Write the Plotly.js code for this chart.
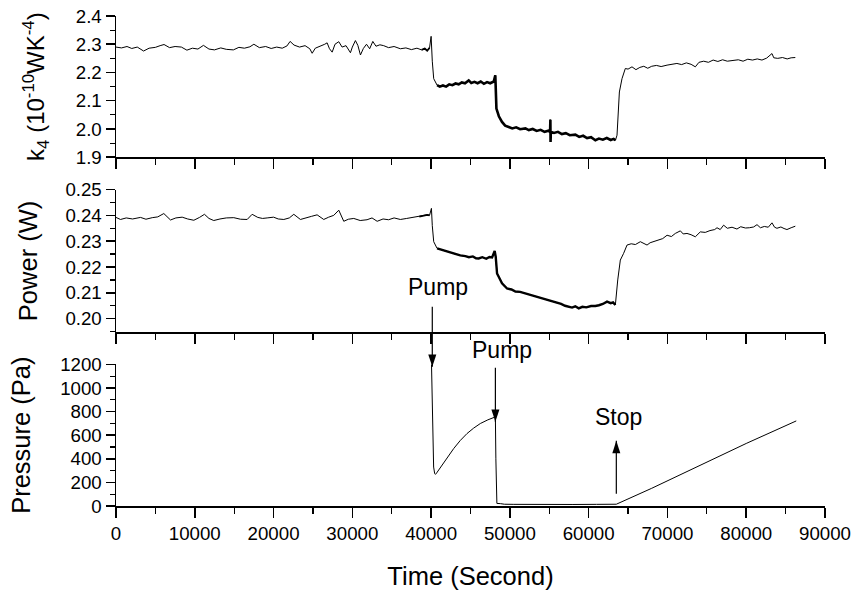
<!DOCTYPE html>
<html><head><meta charset="utf-8">
<script src="https://cdn.plot.ly/plotly-3.0.1.min.js"></script>
<style>html,body{margin:0;padding:0;background:#fff}#chart{width:852px;height:590px}</style>
</head><body><div id="chart"></div>
<script>
// ---------- data ----------
const k4Time = [0,700,1400,2000,2700,3500,4200,5000,5600,6100,6800,7500,8300,9000,9700,10400,11100,11800,12500,13300,14000,14900,15600,16300,17000,17500,18200,19000,19700,20400,21100,21700,22100,22600,23300,24000,24600,24900,25300,26000,26500,26800,27100,27440,27800,28280,28700,29200,29760,30000,30390,30700,31030,31400,31800,32200,32600,33000,33500,33980,34600,35300,36100,36800,37500,38200,38800,39200,39500,39800,40000,40150,40330,40760,41100,41500,41900,42300,42700,43100,43500,43900,44300,44770,45100,45500,45900,46300,46700,47100,47500,47950,48150,48290,48600,49000,49400,49850,50300,50800,51300,51970,52400,52900,53400,53900,54400,54900,55100,55140,55160,55200,55600,56100,56600,57100,57600,58310,58800,59300,59800,60300,60850,61300,61800,62300,62800,63170,63400,63600,63900,64230,64650,65000,65500,66000,66500,67000,67500,68000,68600,69200,69950,70600,71200,71800,72400,73000,73540,74000,74600,75200,75800,76400,77000,77600,78400,79000,79600,80200,80800,81400,82000,82600,83270,83500,84000,84600,85200,85700,86230];
const k4Value = [2.290,2.287,2.292,2.285,2.290,2.276,2.286,2.289,2.295,2.299,2.288,2.292,2.290,2.279,2.286,2.283,2.296,2.283,2.280,2.287,2.282,2.280,2.289,2.286,2.291,2.300,2.288,2.292,2.285,2.290,2.286,2.294,2.310,2.297,2.290,2.295,2.284,2.268,2.286,2.293,2.300,2.305,2.284,2.272,2.300,2.309,2.290,2.295,2.270,2.290,2.313,2.296,2.262,2.285,2.300,2.284,2.310,2.293,2.298,2.295,2.288,2.292,2.284,2.287,2.281,2.286,2.280,2.285,2.277,2.287,2.328,2.240,2.178,2.155,2.150,2.154,2.150,2.158,2.155,2.161,2.158,2.165,2.162,2.172,2.163,2.167,2.162,2.168,2.160,2.166,2.162,2.168,2.190,2.072,2.045,2.025,2.012,2.007,2.002,2.006,1.999,2.002,1.996,2.000,1.993,1.997,1.990,1.994,1.989,2.033,1.954,1.990,1.986,1.990,1.982,1.985,1.978,1.980,1.972,1.976,1.968,1.971,1.960,1.966,1.962,1.968,1.961,1.965,1.960,1.978,2.131,2.178,2.214,2.212,2.220,2.210,2.218,2.222,2.215,2.222,2.225,2.221,2.226,2.228,2.232,2.228,2.234,2.229,2.220,2.236,2.240,2.236,2.244,2.239,2.245,2.240,2.243,2.245,2.240,2.247,2.244,2.248,2.244,2.251,2.267,2.252,2.250,2.253,2.248,2.252,2.253];

const powerTime = [0,570,1300,2100,3110,3800,4600,5300,6070,6920,7600,8400,9100,9880,10600,11230,11800,12410,13200,14000,14950,15800,16650,17280,18000,18600,19190,20000,20600,21300,22000,22570,23410,24200,24800,25530,26370,27000,27640,28280,28910,29500,30180,31000,31870,32500,33150,33900,34600,35300,36100,36900,37790,38500,39060,39500,39800,40040,40150,40330,40760,41200,41700,42230,42700,43200,43700,44350,44800,45300,45700,46040,46500,47000,47400,47740,48070,48200,48370,49000,49640,50200,50700,51300,51970,52500,53000,53500,54000,54500,54930,55500,56000,56500,57000,57500,57890,58300,58740,59200,59700,60300,60850,61300,61800,62330,62800,63100,63390,63690,64020,64440,64870,65400,65930,66560,67000,67410,67800,68250,68800,69400,69950,70500,71000,71640,72000,72480,73000,73540,74170,74800,75400,76000,76290,76700,77130,77600,78200,78820,79300,79900,80400,80940,81370,81800,82300,82800,83270,83600,83900,84400,84800,85170,85700,86230];
const powerValue = [0.2392,0.2384,0.2390,0.2386,0.2392,0.2385,0.2391,0.2394,0.2407,0.2382,0.2390,0.2393,0.2386,0.2381,0.2392,0.2404,0.2388,0.2380,0.2386,0.2390,0.2391,0.2385,0.2384,0.2404,0.2392,0.2388,0.2390,0.2393,0.2386,0.2384,0.2390,0.2404,0.2384,0.2392,0.2396,0.2402,0.2384,0.2393,0.2400,0.2420,0.2377,0.2385,0.2388,0.2380,0.2383,0.2390,0.2377,0.2386,0.2383,0.2390,0.2384,0.2388,0.2392,0.2395,0.2398,0.2402,0.2400,0.2427,0.2360,0.2298,0.2272,0.2268,0.2262,0.2259,0.2252,0.2250,0.2245,0.2242,0.2238,0.2241,0.2234,0.2233,0.2238,0.2232,0.2239,0.2237,0.2262,0.2240,0.2175,0.2137,0.2117,0.2113,0.2105,0.2104,0.2098,0.2092,0.2088,0.2083,0.2080,0.2074,0.2070,0.2066,0.2060,0.2057,0.2050,0.2047,0.2043,0.2048,0.2040,0.2046,0.2044,0.2049,0.2049,0.2052,0.2057,0.2066,0.2060,0.2063,0.2053,0.2150,0.2227,0.2253,0.2285,0.2290,0.2287,0.2298,0.2290,0.2285,0.2294,0.2298,0.2304,0.2310,0.2323,0.2318,0.2330,0.2340,0.2328,0.2330,0.2325,0.2317,0.2336,0.2334,0.2341,0.2345,0.2352,0.2345,0.2362,0.2350,0.2354,0.2347,0.2356,0.2351,0.2352,0.2355,0.2364,0.2352,0.2357,0.2354,0.2371,0.2354,0.2350,0.2355,0.2349,0.2345,0.2352,0.2358];

const pressureTime = [40050,40100,40150,40220,40320,40450,40550,40700,41000,41600,42200,42870,43700,44560,45400,46250,47200,48070,48160,48220,48280,48350,48800,49300,50500,52000,55000,58000,61000,63510,68000,74170,80000,86350];
const pressureValue = [1200,1000,750,500,330,275,268,280,310,360,425,487,555,614,660,699,730,755,755,400,60,22,20,15,14,13,13,13,14,15,150,348,530,721];

const timeTicks = [0,10000,20000,30000,40000,50000,60000,70000,80000,90000];
const eventLabels = ['Pump','Pump','Stop'];
const eventTimes = [40150,48160,63510];      // arrow positions (s)
const eventPressure = [1179,713,552];        // arrow tips (Pa)
const eventDirection = ['down','down','up'];

// noisy stretch drawn heavier, taken from the same arrays
function pick(t, v, lo, hi){
  const x=[], y=[];
  for(let i=0;i<t.length;i++){ if(t[i]>=lo && t[i]<=hi){ x.push(t[i]); y.push(v[i]); } }
  return {x, y};
}
const k4Noisy = pick(k4Time, k4Value, 40760, 63400);
const k4Pre = pick(k4Time, k4Value, 38800, 39800);
const pwNoisy = pick(powerTime, powerValue, 40760, 63390);
const pwPre = pick(powerTime, powerValue, 38500, 39800);

const FONT = 'Arial, "Liberation Sans", Helvetica, sans-serif';
const line = (w)=>({color:'#000', width:w});

const traces = [
  {x:k4Time, y:k4Value, xaxis:'x', yaxis:'y', mode:'lines', line:line(1), hoverinfo:'skip'},
  {x:k4Noisy.x, y:k4Noisy.y, xaxis:'x', yaxis:'y', mode:'lines', line:line(2.6), hoverinfo:'skip'},
  {x:k4Pre.x, y:k4Pre.y, xaxis:'x', yaxis:'y', mode:'lines', line:line(1.8), hoverinfo:'skip'},
  {x:powerTime, y:powerValue, xaxis:'x2', yaxis:'y2', mode:'lines', line:line(1), hoverinfo:'skip'},
  {x:pwNoisy.x, y:pwNoisy.y, xaxis:'x2', yaxis:'y2', mode:'lines', line:line(2.4), hoverinfo:'skip'},
  {x:pwPre.x, y:pwPre.y, xaxis:'x2', yaxis:'y2', mode:'lines', line:line(1.8), hoverinfo:'skip'},
  {x:pressureTime, y:pressureValue, xaxis:'x3', yaxis:'y3', mode:'lines', line:line(1), hoverinfo:'skip'},
  // arrow heads at the event positions
  {x:eventTimes, y:eventPressure, xaxis:'x3', yaxis:'y3', mode:'markers', cliponaxis:false, hoverinfo:'skip',
   marker:{symbol:'arrow', size:13, color:'#000', line:{width:0},
           angle:eventDirection.map(d=>d==='down'?180:0)}}
];

const tickFont = {family:FONT, size:18.7, color:'#000'};
const titleFont = {family:FONT, size:25.5, color:'#000'};
const xBase = {
  range:[0,90000], tickvals:timeTicks, ticktext:timeTicks.map(String),
  showline:true, linecolor:'#000', linewidth:1.5, ticks:'outside', ticklen:10, tickwidth:1.5, tickcolor:'#000',
  showgrid:false, zeroline:false, tickfont:tickFont,
  minor:{dtick:5000, tick0:0, ticks:'outside', ticklen:6, tickwidth:1.3, tickcolor:'#000', showgrid:false}
};
const yBase = {
  showline:true, linecolor:'#000', linewidth:1.5, ticks:'outside', ticklen:9, tickwidth:1.5, tickcolor:'#000',
  showgrid:false, zeroline:false, tickfont:tickFont
};
const minorY = (d)=>({dtick:d, ticks:'outside', ticklen:5, tickwidth:1.2, tickcolor:'#000', showgrid:false});

const pressureDomain = [0,0.289];
const pressureRange = [0,1200];

const annotations = [];
const textPos = [[0.454,0.447],[0.5446,0.318],[0.709,0.1815]];
for(let i=0;i<eventLabels.length;i++){
  annotations.push({xref:'paper', yref:'paper', x:textPos[i][0], y:textPos[i][1], text:eventLabels[i],
    showarrow:false, font:{family:FONT, size:23, color:'#000'}, xanchor:'center', yanchor:'middle'});
}
// arrow shafts (pixel length from the tip); anchored in paper space so they can cross panels
const shaftLen = [60,54,-53];
const shapes = eventTimes.map((t,i)=>({type:'line', xref:'x3', yref:'paper', x0:t, x1:t,
  ysizemode:'pixel',
  yanchor:pressureDomain[0] + (eventPressure[i]-pressureRange[0])/(pressureRange[1]-pressureRange[0])*(pressureDomain[1]-pressureDomain[0]),
  y0:0, y1:shaftLen[i], line:{color:'#000', width:1.2}}));

const layout = {
  width:852, height:590,
  margin:{l:115.5, r:27.3, t:15.7, b:84},
  paper_bgcolor:'#fff', plot_bgcolor:'#fff',
  showlegend:false,
  font:{family:FONT, color:'#000'},
  xaxis:Object.assign({}, xBase, {anchor:'y', domain:[0,1], showticklabels:false}),
  xaxis2:Object.assign({}, xBase, {anchor:'y2', domain:[0,1], showticklabels:false}),
  xaxis3:Object.assign({}, xBase, {anchor:'y3', domain:[0,1], title:{text:'Time (Second)', font:titleFont}}),
  yaxis:Object.assign({}, yBase, {domain:[0.7118,1], range:[1.9,2.4], tick0:1.9, dtick:0.1, tickformat:'.1f', minor:minorY(0.05),
    title:{text:'k<sub>4</sub> (10<sup>-10</sup>WK<sup>-4</sup>)', font:{family:FONT, size:24, color:'#000'}, standoff:24}}),
  yaxis2:Object.assign({}, yBase, {domain:[0.3543,0.6459], range:[0.1947,0.25], tick0:0.2, dtick:0.01, tickformat:'.2f', minor:minorY(0.005),
    title:{text:'Power (W)', font:titleFont, standoff:20}}),
  yaxis3:Object.assign({}, yBase, {domain:pressureDomain, range:pressureRange, tick0:0, dtick:200, minor:minorY(100),
    title:{text:'Pressure (Pa)', font:titleFont, standoff:22}}),
  annotations:annotations,
  shapes:shapes
};

Plotly.newPlot('chart', traces, layout, {displayModeBar:false, staticPlot:true}).then(gd=>{
  // drop empty placeholder text nodes that Plotly leaves behind
  gd.querySelectorAll('text').forEach(t=>{ if(!t.textContent.trim()) t.remove(); });
});
</script>
</body></html>
